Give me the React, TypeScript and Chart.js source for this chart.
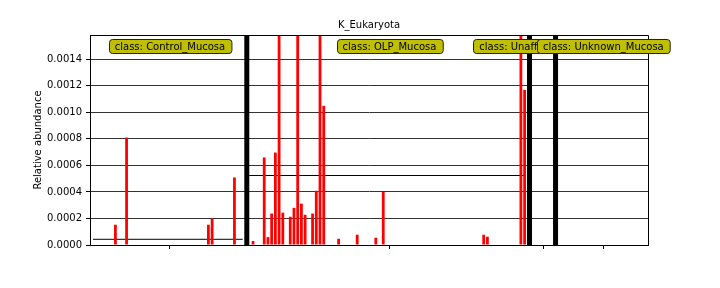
import React, { useEffect, useRef } from 'react';
import { Chart, registerables } from 'chart.js';

Chart.register(...registerables);

// ---------------- data ----------------
const chartTitle = 'K_Eukaryota';
const yAxisLabel = 'Relative abundance';
const classNames = ['Control_Mucosa', 'OLP_Mucosa', 'Unaffected_Mucosa', 'Unknown_Mucosa'];

const controlValues = [
  0, 0, 0, 0, 0, 0, 0.000153, 0, 0, 0.00081,
  0, 0, 0, 0, 0, 0, 0, 0, 0, 0,
  0, 0, 0, 0, 0, 0, 0, 0, 0, 0,
  0, 0.000153, 0.0002, 0, 0, 0, 0, 0, 0.000509, 0,
  0, 0,
];

const olpValues = [
  0, 0.00003, 0, 0, 0.00066, 0.00006, 0.000237, 0.000697, 0.0082, 0.000244,
  0, 0.000213, 0.00028, 0.0087, 0.000312, 0.000228, 0, 0.000237, 0.000409, 0.0078,
  0.001049, 0, 0, 0, 0.000047, 0, 0, 0, 0, 0.0000775,
  0, 0, 0, 0, 0.000055, 0, 0.0004, 0, 0, 0,
  0, 0, 0, 0, 0, 0, 0, 0, 0, 0,
  0, 0, 0, 0, 0, 0, 0, 0, 0, 0,
  0, 0, 0, 0.0000775, 0.0000625, 0, 0, 0, 0, 0,
  0, 0, 0, 0.0086, 0.001169, 0,
];

const unaffectedValues = [0, 0, 0, 0, 0, 0, 0];

const unknownValues = [
  0, 0, 0, 0, 0, 0, 0, 0, 0, 0,
  0, 0, 0, 0, 0, 0, 0, 0, 0, 0,
  0, 0, 0, 0, 0,
];

const classMeans = [0.000043, 0.000524, 0, 0];

const yTickValues = [0, 0.0002, 0.0004, 0.0006, 0.0008, 0.001, 0.0012, 0.0014];
const yMax = 0.001583;

// ---------------- styling constants ----------------
const FONT = '"DejaVu Sans", sans-serif';
const BAR_OFFSET = 0.83;
const SEP_OFFSET = 0.15;

export default function App() {
  const canvasRef = useRef<HTMLCanvasElement | null>(null);

  useEffect(() => {
    document.body.style.margin = '0';
    const canvas = canvasRef.current;
    if (!canvas) return;

    const groups = [controlValues, olpValues, unaffectedValues, unknownValues];
    const allValues: number[] = [];
    const ranges: { start: number; end: number }[] = [];
    groups.forEach((g) => {
      const start = allValues.length;
      g.forEach((v) => allValues.push(v));
      ranges.push({ start, end: allValues.length });
    });
    const total = allValues.length;

    const barData = allValues.map((v, i) => ({ x: i + BAR_OFFSET, y: v }));
    const classCenters = ranges.map((r) => (r.start + r.end) / 2 + 0.5);

    const separatorSets = ranges.slice(0, -1).map((r) => ({
      type: 'line' as const,
      data: [
        { x: r.end + SEP_OFFSET, y: 0 },
        { x: r.end + SEP_OFFSET, y: yMax },
      ],
      borderColor: '#000',
      borderWidth: 5,
      pointRadius: 0,
      clip: 0,
      order: 1,
    }));

    const meanSets = ranges
      .map((r, k) => ({ r, m: classMeans[k] }))
      .filter(({ m }) => m > 0)
      .map(({ r, m }) => ({
        type: 'line' as const,
        data: [
          { x: r.start + 0.8, y: m },
          { x: r.end - 0.95, y: m },
        ],
        borderColor: '#000',
        borderWidth: 1,
        pointRadius: 0,
        clip: 0,
        order: 3,
      }));

    const labelPlugin = {
      id: 'classLabels',
      afterDatasetsDraw(chart: any) {
        const { ctx, chartArea } = chart;
        const xs = chart.scales.x;
        ctx.save();
        // frame (top + right)
        ctx.strokeStyle = '#000';
        ctx.lineWidth = 1;
        ctx.beginPath();
        const top = Math.round(chartArea.top) + 0.5;
        const right = Math.round(chartArea.right) + 0.5;
        ctx.moveTo(Math.round(chartArea.left), top);
        ctx.lineTo(right, top);
        ctx.lineTo(right, Math.round(chartArea.bottom) + 1);
        ctx.stroke();

        // class label boxes
        ctx.font = `10px ${FONT}`;
        ctx.textAlign = 'center';
        ctx.textBaseline = 'middle';
        classNames.forEach((name, k) => {
          const text = 'class: ' + name;
          const cx = xs.getPixelForValue(classCenters[k]);
          const w = ctx.measureText(text).width + 12;
          const h = 14;
          const x0 = Math.round(cx - w / 2) + 0.5;
          const y0 = Math.round(chartArea.top) + 4.5;
          const r = 3;
          ctx.beginPath();
          ctx.moveTo(x0 + r, y0);
          ctx.lineTo(x0 + w - r, y0);
          ctx.quadraticCurveTo(x0 + w, y0, x0 + w, y0 + r);
          ctx.lineTo(x0 + w, y0 + h - r);
          ctx.quadraticCurveTo(x0 + w, y0 + h, x0 + w - r, y0 + h);
          ctx.lineTo(x0 + r, y0 + h);
          ctx.quadraticCurveTo(x0, y0 + h, x0, y0 + h - r);
          ctx.lineTo(x0, y0 + r);
          ctx.quadraticCurveTo(x0, y0, x0 + r, y0);
          ctx.closePath();
          ctx.fillStyle = '#bfbf00';
          ctx.fill();
          ctx.strokeStyle = '#222';
          ctx.stroke();
          ctx.fillStyle = '#000';
          ctx.fillText(text, cx, y0 + h / 2 + 0.5);
        });
        ctx.restore();
      },
    };

    const chart = new Chart(canvas, {
      type: 'bar',
      data: {
        datasets: [
          {
            type: 'bar' as const,
            data: barData,
            backgroundColor: '#ff0000',
            borderWidth: 0,
            barPercentage: 0.75,
            categoryPercentage: 1,
            order: 2,
          } as any,
          ...separatorSets,
          ...meanSets,
        ],
      },
      options: {
        responsive: false,
        animation: false,
        devicePixelRatio: 1,
        layout: { padding: { left: 0, right: 72, top: 0, bottom: 0 } },
        plugins: {
          legend: { display: false },
          tooltip: { enabled: false },
          title: {
            display: true,
            text: chartTitle,
            fullSize: false,
            color: '#000',
            font: { family: FONT, size: 10, weight: 'normal' },
            padding: { top: 19, bottom: 4 },
          },
        },
        scales: {
          x: {
            type: 'linear',
            min: 0,
            max: total,
            offset: false,
            grid: {
              offset: false,
              drawOnChartArea: false,
              drawTicks: true,
              tickLength: 4,
              tickColor: '#000',
            },
            border: { display: true, color: '#000', width: 1 },
            ticks: {
              callback: () => '',
              font: { family: FONT, size: 10 },
            },
            afterBuildTicks: (scale: any) => {
              scale.ticks = classCenters.map((v) => ({ value: v }));
            },
            afterFit: (scale: any) => {
              scale.height = 43;
            },
          },
          y: {
            type: 'linear',
            min: 0,
            max: yMax,
            grid: {
              color: '#333',
              lineWidth: 1,
              tickLength: 4,
              tickColor: '#000',
            },
            border: { display: true, color: '#000', width: 1 },
            ticks: {
              color: '#000',
              padding: 4,
              font: { family: FONT, size: 10 },
              callback: (v: any) => Number(v).toFixed(4),
            },
            title: {
              display: true,
              text: yAxisLabel,
              color: '#000',
              font: { family: FONT, size: 10 },
              padding: { top: 32, bottom: 0 },
            },
            afterBuildTicks: (scale: any) => {
              scale.ticks = yTickValues.map((v) => ({ value: v }));
            },
            afterFit: (scale: any) => {
              scale.width = 90;
            },
          },
        },
      } as any,
      plugins: [labelPlugin],
    });

    return () => chart.destroy();
  }, []);

  return (
    <div style={{ width: 720, height: 288 }}>
      <canvas ref={canvasRef} width={720} height={288} />
    </div>
  );
}
